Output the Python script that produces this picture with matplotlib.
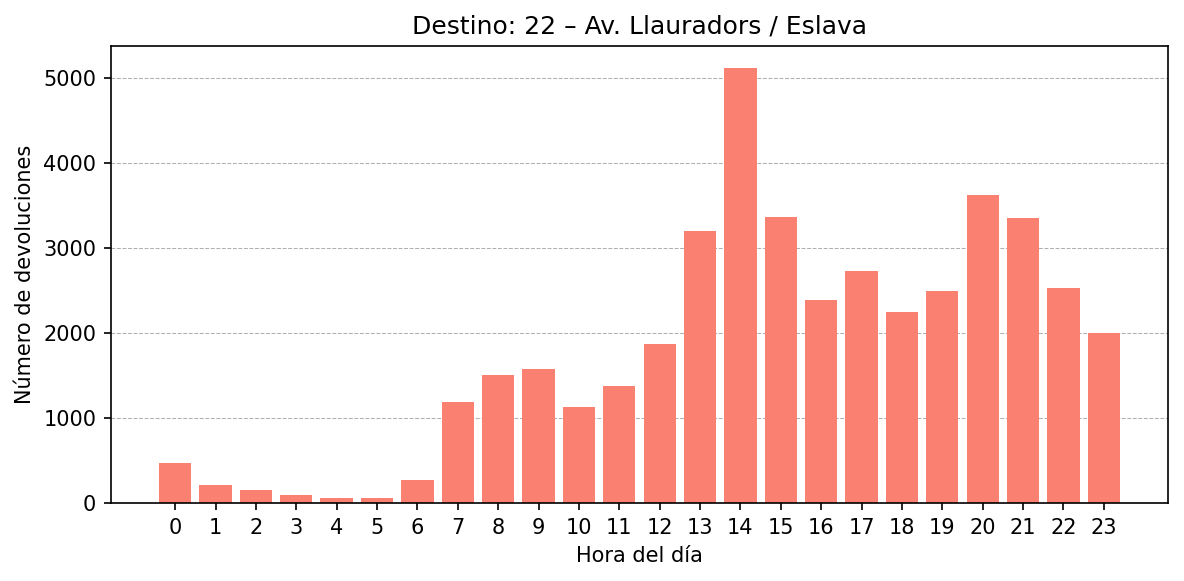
import matplotlib
matplotlib.use("Agg")
import matplotlib.pyplot as plt

horas = list(range(24))
devoluciones = [476, 206, 147, 88, 53, 53, 276, 1188, 1505, 1576, 1129, 1376,
                1870, 3204, 5121, 3368, 2392, 2733, 2251, 2498, 3627, 3356, 2533, 2000]
titulo = "Destino: 22 – Av. Llauradors / Eslava"

fig = plt.figure(figsize=(1184 / 150, 581 / 150), dpi=150)
ax = fig.add_axes([0.0937, 0.1343, 0.8928, 0.7865])

ax.bar(horas, devoluciones, color="salmon", width=0.8)
ax.set_xticks(horas)
ax.set_title(titulo)
ax.set_xlabel("Hora del día")
ax.set_ylabel("Número de devoluciones")
ax.grid(axis="y", linestyle="--", linewidth=0.5, color="#b0b0b0")
ax.set_axisbelow(True)

fig.savefig("out.png", dpi=150)
